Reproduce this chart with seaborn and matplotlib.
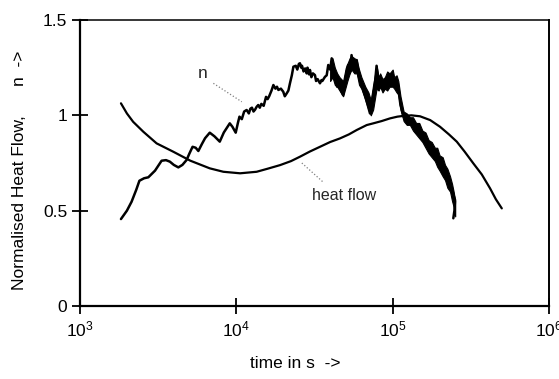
import numpy as np
import matplotlib
matplotlib.use("Agg")
import matplotlib.pyplot as plt
import seaborn as sns

# ---- data ----
# n curve: log10(time in s) and value
n_logt = [3.262, 3.30, 3.33, 3.36, 3.38, 3.41, 3.437, 3.48, 3.522, 3.55, 3.575, 3.60,
          3.629, 3.655, 3.682, 3.70, 3.72, 3.74, 3.757, 3.78, 3.80, 3.83, 3.86, 3.894,
          3.92, 3.958, 3.975, 3.996, 4.01, 4.02, 4.035, 4.05, 4.066, 4.08, 4.09, 4.10,
          4.11, 4.12, 4.13, 4.14, 4.15, 4.16, 4.175, 4.19, 4.20, 4.21, 4.225, 4.237,
          4.25, 4.26, 4.269, 4.285, 4.30, 4.31, 4.322, 4.333, 4.343, 4.355, 4.365, 4.38,
          4.39, 4.40, 4.407, 4.415, 4.42, 4.43, 4.44, 4.45, 4.455, 4.465, 4.471, 4.48,
          4.49, 4.503, 4.51, 4.52, 4.535, 4.545, 4.55, 4.567, 4.578, 4.588, 4.60, 4.61,
          4.62, 4.63, 4.645, 4.66, 4.67, 4.683, 4.70, 4.715, 4.725, 4.737, 4.75, 4.77,
          4.785, 4.80, 4.825, 4.845, 4.855, 4.87, 4.885, 4.897, 4.91, 4.92, 4.935, 4.95,
          4.965, 4.975, 4.995, 5.01, 5.025, 5.036, 5.05, 5.07, 5.11, 5.15, 5.186, 5.23,
          5.271, 5.30, 5.335, 5.367, 5.39, 5.399, 5.395, 5.388]
n_val = [0.456, 0.50, 0.547, 0.61, 0.657, 0.67, 0.675, 0.71, 0.762, 0.765, 0.757, 0.74,
         0.727, 0.74, 0.766, 0.80, 0.835, 0.83, 0.813, 0.85, 0.88, 0.909, 0.89, 0.862,
         0.91, 0.958, 0.94, 0.909, 0.96, 0.993, 0.98, 1.02, 1.028, 1.01, 1.035, 1.04,
         1.02, 1.03, 1.045, 1.054, 1.04, 1.06, 1.05, 1.097, 1.085, 1.10, 1.13, 1.159,
         1.14, 1.15, 1.133, 1.14, 1.124, 1.10, 1.115, 1.13, 1.168, 1.21, 1.255, 1.26,
         1.24, 1.27, 1.273, 1.25, 1.26, 1.23, 1.246, 1.22, 1.25, 1.215, 1.238, 1.20,
         1.22, 1.211, 1.18, 1.19, 1.168, 1.185, 1.18, 1.202, 1.21, 1.264, 1.24, 1.299,
         1.20, 1.21, 1.15, 1.17, 1.13, 1.106, 1.20, 1.264, 1.22, 1.316, 1.25, 1.29,
         1.20, 1.16, 1.10, 1.04, 1.01, 1.08, 1.15, 1.26, 1.17, 1.19, 1.14, 1.176,
         1.15, 1.19, 1.211, 1.16, 1.176, 1.14, 1.054, 0.993, 0.975, 0.93, 0.888, 0.85,
         0.80, 0.76, 0.70, 0.643, 0.58, 0.556, 0.50, 0.46]

# noisy envelope of the n curve
band_logt = [4.60, 4.615, 4.63, 4.645, 4.66, 4.683, 4.70, 4.71, 4.725, 4.737, 4.755, 4.77,
             4.785, 4.80, 4.825, 4.845, 4.86, 4.875, 4.897, 4.91, 4.92, 4.935, 4.95,
             4.965, 4.98, 5.00, 5.01, 5.025, 5.036, 5.05, 5.07, 5.09, 5.11, 5.13, 5.15,
             5.17, 5.19, 5.21, 5.23, 5.25, 5.27, 5.285, 5.30, 5.32, 5.335, 5.35, 5.367,
             5.38, 5.39, 5.40]
band_hi = [1.26, 1.30, 1.25, 1.22, 1.20, 1.18, 1.25, 1.27, 1.30, 1.31, 1.30, 1.29,
           1.24, 1.20, 1.15, 1.12, 1.08, 1.16, 1.26, 1.20, 1.22, 1.19, 1.20,
           1.23, 1.22, 1.24, 1.20, 1.21, 1.18, 1.10, 1.02, 1.01, 0.99, 0.99, 0.96,
           0.96, 0.92, 0.91, 0.87, 0.86, 0.83, 0.83, 0.79, 0.78, 0.74, 0.72, 0.68,
           0.64, 0.60, 0.55]
band_lo = [1.18, 1.20, 1.16, 1.15, 1.13, 1.10, 1.15, 1.18, 1.22, 1.24, 1.22, 1.22,
           1.16, 1.14, 1.08, 1.03, 1.00, 1.03, 1.14, 1.13, 1.15, 1.12, 1.14,
           1.13, 1.15, 1.15, 1.14, 1.12, 1.11, 1.03, 0.97, 0.95, 0.95, 0.92, 0.90,
           0.88, 0.86, 0.83, 0.80, 0.78, 0.76, 0.73, 0.71, 0.68, 0.66, 0.62, 0.60,
           0.55, 0.52, 0.47]

# heat flow curve
hf_logt = [3.262, 3.30, 3.34, 3.405, 3.49, 3.597, 3.706, 3.83, 3.917, 4.024, 4.13, 4.20,
           4.28, 4.35, 4.407, 4.47, 4.535, 4.60, 4.663, 4.72, 4.77, 4.834, 4.876, 4.93,
           4.983, 5.03, 5.068, 5.12, 5.175, 5.24, 5.303, 5.36, 5.41, 5.46, 5.516, 5.57,
           5.623, 5.66, 5.698]
hf_val = [1.063, 1.01, 0.966, 0.914, 0.853, 0.809, 0.762, 0.722, 0.704, 0.696, 0.704, 0.72,
          0.739, 0.76, 0.783, 0.81, 0.835, 0.86, 0.879, 0.90, 0.923, 0.949, 0.958, 0.97,
          0.984, 0.993, 0.997, 1.0, 0.995, 0.975, 0.94, 0.90, 0.862, 0.81, 0.748, 0.69,
          0.617, 0.56, 0.512]

x_ticks = [1e3, 1e4, 1e5, 1e6]
x_ticklabels = [r"$\mathregular{10^{3}}$", r"$\mathregular{10^{4}}$",
                r"$\mathregular{10^{5}}$", r"$\mathregular{10^{6}}$"]
y_ticks = [0, 0.5, 1, 1.5]
y_ticklabels = ["0", "0.5", "1", "1.5"]

# ---- style ----
sns.set_theme(style="white")
plt.rcParams["font.family"] = ["Liberation Sans", "DejaVu Sans"]
plt.rcParams["mathtext.fontset"] = "custom"
plt.rcParams["mathtext.rm"] = "Liberation Sans"
plt.rcParams["mathtext.it"] = "Liberation Sans"

fig = plt.figure(figsize=(5.59, 3.79), dpi=100)
ax = fig.add_axes([80 / 559, 1 - 306 / 379, 469 / 559, 286 / 379])

n_t = [10 ** v for v in n_logt]
hf_t = [10 ** v for v in hf_logt]
band_t = [10 ** v for v in band_logt]

sns.lineplot(x=hf_t, y=hf_val, ax=ax, color="black", linewidth=1.6,
             sort=False, estimator=None)
sns.lineplot(x=n_t, y=n_val, ax=ax, color="black", linewidth=1.8,
             sort=False, estimator=None)
ax.fill_between(band_t, band_lo, band_hi, color="black", linewidth=0.8)

ax.set_xscale("log")
ax.set_xlim(1e3, 1e6)
ax.set_ylim(0, 1.5)
ax.set_xticks(x_ticks)
ax.set_xticklabels(x_ticklabels)
ax.set_yticks(y_ticks)
ax.set_yticklabels(y_ticklabels)
ax.minorticks_off()
ax.tick_params(axis="both", which="major", direction="inout", length=12, width=1.3,
               colors="black", labelsize=12.5, bottom=True, left=True,
               top=False, right=False)
ax.tick_params(axis="y", pad=3)
ax.tick_params(axis="x", pad=4)

for side in ["left", "bottom"]:
    ax.spines[side].set_linewidth(1.6)
    ax.spines[side].set_color("black")
ax.spines["top"].set_linewidth(1.1)
ax.spines["right"].set_linewidth(1.4)
ax.spines["top"].set_color("black")
ax.spines["right"].set_color("black")
ax.grid(False)

ax.set_ylabel("Normalised Heat Flow,      n  ->", fontsize=12.5, color="black")
ax.yaxis.set_label_coords(-0.113, 0.475)
ax.set_xlabel("time in s  ->", fontsize=12.5, color="black")
ax.xaxis.set_label_coords(0.46, -0.175)

# annotations
ax.text(10 ** 3.787, 1.217, "n", fontsize=12.5, ha="center", va="center")
ax.plot([10 ** 3.853, 10 ** 4.035], [1.168, 1.071], color="gray", linestyle=":", linewidth=0.9)
ax.text(10 ** 4.484, 0.577, "heat flow", fontsize=11.5, ha="left", va="center")
ax.plot([10 ** 4.419, 10 ** 4.555], [0.75, 0.65], color="gray", linestyle=":", linewidth=0.9)

fig.savefig("out.png", dpi=100)
